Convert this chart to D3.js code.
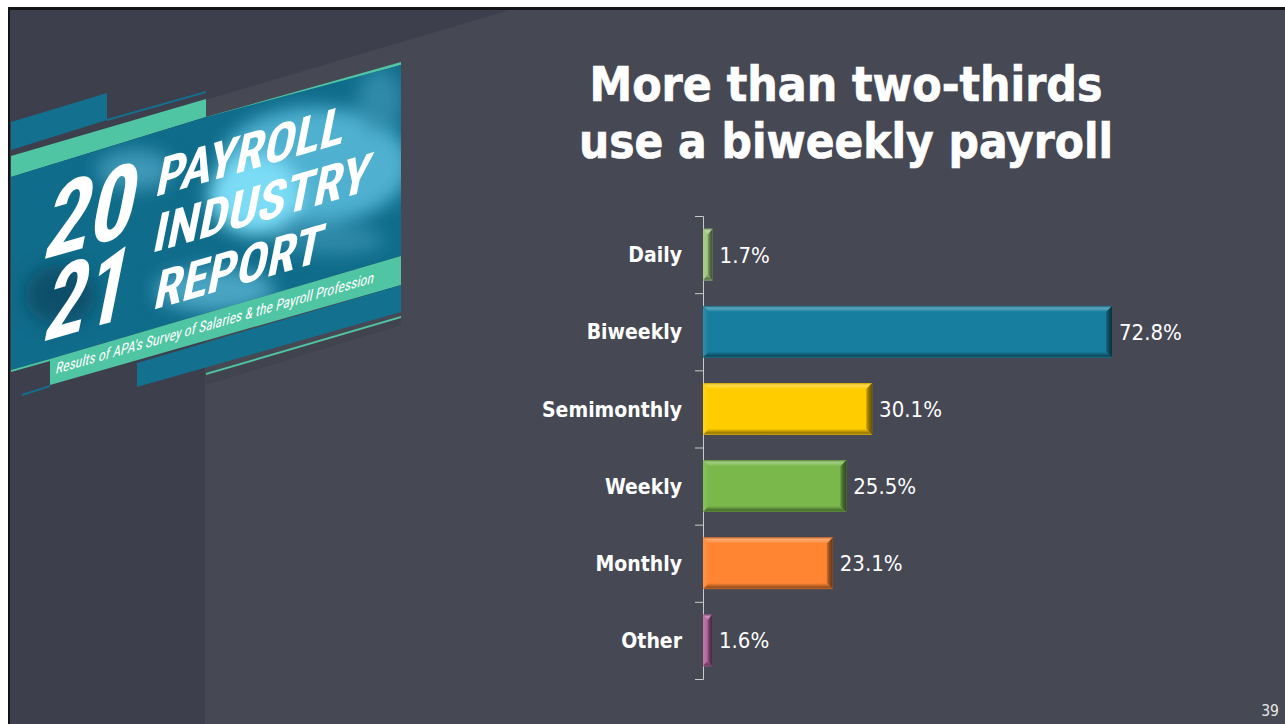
<!DOCTYPE html>
<html>
<head>
<meta charset="utf-8">
<script src="https://cdn.jsdelivr.net/npm/d3@7"></script>
<style>
  html, body { margin: 0; padding: 0; background: #fff; overflow: hidden; }
  svg { display: block; }
  text { font-family: "DejaVu Sans", sans-serif; font-stretch: condensed; }
</style>
</head>
<body>
<svg id="slide" width="1285" height="724"></svg>
<script>
// Chart data
var categories = ["Daily", "Biweekly", "Semimonthly", "Weekly", "Monthly", "Other"];
var percents = [1.7, 72.8, 30.1, 25.5, 23.1, 1.6];
var barColors = ["#9cc67e", "#177e9f", "#ffcc00", "#7ab84c", "#ff8533", "#b5649f"];
var titleLines = ["More than two-thirds", "use a biweekly payroll"];
var titleWidths = [513, 534];

var svg = d3.select("#slide");
var defs = svg.append("defs");

//Draws a closed polygon from a list of [x, y] corners
function poly(parent, pts, fill) {
  return parent.append("polygon")
    .attr("points", pts.map(function(p) { return p.join(","); }).join(" "))
    .attr("fill", fill);
}

//Adds an evenly spaced linear gradient and returns its url
function gradient(id, horizontal, stops) {
  var g = defs.append("linearGradient").attr("id", id)
    .attr("x1", 0).attr("y1", 0)
    .attr("x2", horizontal ? 1 : 0).attr("y2", horizontal ? 0 : 1);
  stops.forEach(function(s, i) {
    g.append("stop").attr("offset", i / (stops.length - 1)).attr("stop-color", s);
  });
  return "url(#" + id + ")";
}

//Slide background
svg.append("rect").attr("x", 8).attr("y", 7).attr("width", 1277).attr("height", 717).attr("fill", "#141418");
svg.append("rect").attr("x", 10).attr("y", 10).attr("width", 1275).attr("height", 714).attr("fill", "#464854");
poly(svg, [[10, 10], [510, 10], [205, 100], [205, 724], [10, 724]], "#3d3f4d");

//Banner artwork, all of it drawn in page coordinates
var logo = svg.append("g");
defs.append("filter").attr("id", "blur").append("feGaussianBlur").attr("stdDeviation", 9);
defs.append("clipPath").attr("id", "photoClip").append("polygon")
  .attr("points", "11,177 206,117 401,65 401,256 50,359 11,370");

poly(logo, [[206, 374], [401, 317], [401, 325], [206, 385]], "#41434e");
poly(logo, [[11, 122], [107, 93], [107, 120], [11, 150]], "#13708f");
poly(logo, [[107, 119], [206, 91], [206, 93], [107, 121]], "#13708f");
poly(logo, [[206, 99], [206, 117], [11, 177], [11, 156]], "#50c5a3");
poly(logo, [[206, 117], [401, 62], [401, 65], [206, 120]], "#50c5a3");

var photo = logo.append("g").attr("clip-path", "url(#photoClip)");
photo.append("rect").attr("x", 11).attr("y", 60).attr("width", 390).attr("height", 320).attr("fill", "#0f6c8a");
var blobs = photo.append("g").attr("filter", "url(#blur)");
blobs.append("ellipse").attr("cx", 315).attr("cy", 165).attr("rx", 95).attr("ry", 58).attr("fill", "#4fb0d0");
blobs.append("ellipse").attr("cx", 380).attr("cy", 100).attr("rx", 22).attr("ry", 32).attr("fill", "#2f8aa8");
blobs.append("ellipse").attr("cx", 255).attr("cy", 195).attr("rx", 46).attr("ry", 40).attr("fill", "#7cdcf6");
blobs.append("ellipse").attr("cx", 135).attr("cy", 170).attr("rx", 38).attr("ry", 20).attr("fill", "#3c98b6");
blobs.append("ellipse").attr("cx", 215).attr("cy", 290).attr("rx", 60).attr("ry", 22).attr("fill", "#4aa4c2");
blobs.append("ellipse").attr("cx", 330).attr("cy", 240).attr("rx", 55).attr("ry", 14).attr("fill", "#2f8aa8");
blobs.append("ellipse").attr("cx", 60).attr("cy", 295).attr("rx", 35).attr("ry", 30).attr("fill", "#0b4f6a");

poly(logo, [[50, 359], [401, 256], [401, 285], [50, 385]], "#50c5a3");
poly(logo, [[137, 363], [401, 285], [401, 312], [137, 387]], "#13708f");
poly(logo, [[11, 370], [50, 359], [50, 361], [11, 372]], "#50c5a3");
poly(logo, [[22, 394], [50, 385], [50, 387], [22, 396]], "#13708f");
poly(logo, [[206, 373], [401, 316], [401, 318], [206, 375]], "#50c5a3");

//Slanted white lettering
var logoText = [
  { t: "20", x: 41, y: 260, s: 100, w: 90 },
  { t: "21", x: 41, y: 342, s: 100, w: 82 },
  { t: "PAYROLL", x: 154, y: 197, s: 52, w: 188 },
  { t: "INDUSTRY", x: 151, y: 253, s: 52, w: 216 },
  { t: "REPORT", x: 152, y: 310, s: 52, w: 168 }
];
logoText.forEach(function(d) {
  logo.append("text")
    .attr("transform", "translate(" + d.x + "," + d.y + ") skewY(-16) skewX(-12)")
    .attr("textLength", d.w).attr("lengthAdjust", "spacingAndGlyphs")
    .attr("font-size", d.s).attr("font-weight", "bold").attr("fill", "#fff")
    .style("font-family", "Roboto, sans-serif")
    .text(d.t);
});
logo.append("text")
  .attr("transform", "translate(55,374) skewY(-16) skewX(-12)")
  .attr("textLength", 318).attr("lengthAdjust", "spacingAndGlyphs")
  .attr("font-size", 15).attr("fill", "#fff")
  .style("font-family", "Roboto, sans-serif")
  .text("Results of APA's Survey of Salaries & the Payroll Profession");

//Title
svg.selectAll(".title").data(titleLines).enter().append("text")
  .attr("class", "title")
  .attr("x", 846)
  .attr("y", function(d, i) { return 101 + i * 57; })
  .attr("text-anchor", "middle")
  .attr("font-size", 48)
  .attr("font-weight", "bold")
  .attr("fill", "#fff")
  .attr("stroke", "#fff")
  .attr("stroke-width", 0.7)
  .attr("textLength", function(d, i) { return titleWidths[i]; })
  .attr("lengthAdjust", "spacingAndGlyphs")
  .text(function(d) { return d; });

//Scales
var x = d3.scaleLinear().domain([0, 72.8]).range([703, 1112]);
var yBand = d3.scaleBand().domain(categories).range([216, 679]).paddingInner(0.33).paddingOuter(0.165);
var yEdges = d3.scaleLinear().domain([0, categories.length]).range([216, 679]);

//Axis with ticks on the band boundaries
var edgeAxis = d3.axisLeft(yEdges).ticks(categories.length).tickSize(8).tickFormat("");
var gEdges = svg.append("g").attr("transform", "translate(703,0)").call(edgeAxis);
gEdges.selectAll("path, line").attr("stroke", "#c9cacc").attr("stroke-width", 1);

var labelAxis = d3.axisLeft(yBand).tickSize(0).tickPadding(21);
var gLabels = svg.append("g").attr("transform", "translate(703,1)").call(labelAxis);
gLabels.select(".domain").remove();
gLabels.selectAll("text")
  .attr("fill", "#fff")
  .attr("font-size", 21)
  .attr("font-weight", "bold")
  .style("font-family", '"DejaVu Sans", sans-serif');

//Bars with a bevelled edge
var bevel = 6;
var bars = svg.selectAll(".bar").data(categories).enter().append("g").attr("class", "bar");
bars.each(function(c, i) {
  var g = d3.select(this);
  var x0 = x(0), x1 = x(percents[i]), y0 = yBand(c), y1 = y0 + yBand.bandwidth();
  var col = barColors[i];
  var b = Math.min(bevel, (x1 - x0) / 2);
  var mixW = function(t) { return d3.interpolateRgb(col, "#fff")(t); };
  var mixK = function(t) { return d3.interpolateRgb(col, "#000")(t); };
  var topFill = gradient("top" + i, false, [mixK(0.2), mixW(0.3), mixW(0.18), col]);
  var botFill = gradient("bot" + i, false, [col, mixK(0.18), mixK(0.4), mixK(0.25)]);
  var rightFill = gradient("right" + i, true, [mixK(0.18), mixK(0.45), mixK(0.6)]);
  var leftFill = gradient("left" + i, true, [mixW(0.12), col]);
  g.append("rect").attr("x", x0).attr("y", y0).attr("width", x1 - x0).attr("height", y1 - y0).attr("fill", col);
  poly(g, [[x0, y0], [x1, y0], [x1 - b, y0 + bevel], [x0 + b, y0 + bevel]], topFill);
  poly(g, [[x0, y0], [x0 + b, y0 + bevel], [x0 + b, y1 - bevel], [x0, y1]], leftFill);
  poly(g, [[x0, y1], [x0 + b, y1 - bevel], [x1 - b, y1 - bevel], [x1, y1]], botFill);
  poly(g, [[x1, y0], [x1 - b, y0 + bevel], [x1 - b, y1 - bevel], [x1, y1]], rightFill);
});

//Value labels
svg.selectAll(".value").data(percents).enter().append("text")
  .attr("class", "value")
  .attr("x", function(d) { return x(d) + 7; })
  .attr("y", function(d, i) { return yBand(categories[i]) + yBand.bandwidth() / 2; })
  .attr("dy", "0.36em")
  .attr("font-size", 22)
  .attr("fill", "#fff")
  .text(function(d) { return d.toFixed(1) + "%"; });

//Slide number
svg.append("text")
  .attr("x", 1279).attr("y", 716)
  .attr("text-anchor", "end")
  .attr("font-size", 15.5)
  .attr("fill", "#e8e8e8")
  .text("39");
</script>
</body>
</html>
